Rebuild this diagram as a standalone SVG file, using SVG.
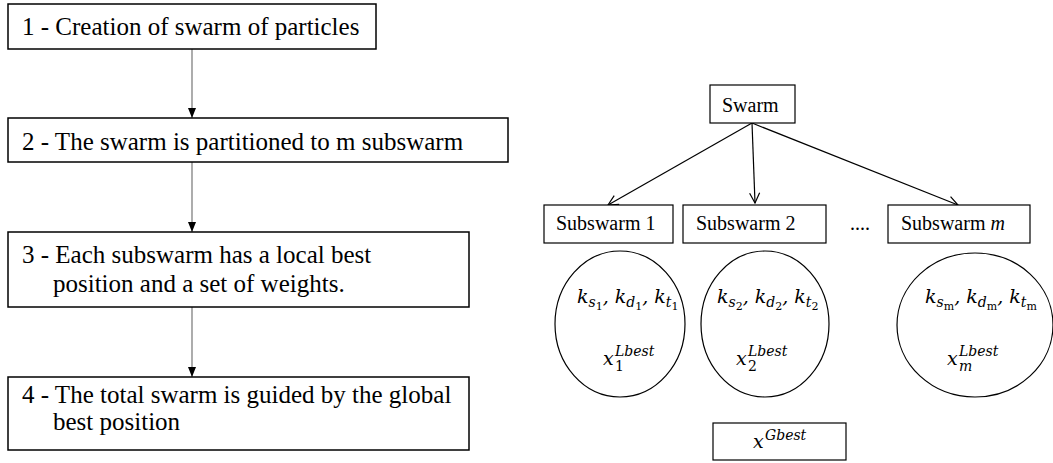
<svg xmlns="http://www.w3.org/2000/svg" width="1053" height="463" viewBox="0 0 1053 463">
  <style>
    .box { fill: #ffffff; stroke: #000000; stroke-width: 1.5; }
    .rbox { fill: #ffffff; stroke: #000000; stroke-width: 1.2; }
    .ell { fill: #ffffff; stroke: #000000; stroke-width: 1.2; }
    .t { font-family: "Liberation Serif", "DejaVu Serif", serif; font-size: 25px; fill: #000000; }
    .rt { font-family: "Liberation Serif", "DejaVu Serif", serif; font-size: 20px; fill: #000000; }
    .math { font-family: "DejaVu Serif", "Liberation Serif", serif; font-style: italic; font-size: 19px; fill: #000000; }
    .sub { font-size: 14px; }
    .sub2 { font-size: 11px; font-style: normal; }
    .flow { stroke: #808080; stroke-width: 1.3; fill: none; }
    .tree { stroke: #000000; stroke-width: 1.2; fill: none; }
  </style>
  <defs>
    <marker id="solidHead" markerWidth="10" markerHeight="8" refX="10" refY="4" orient="auto" markerUnits="userSpaceOnUse">
      <path d="M0,0 L10,4 L0,8 Z" fill="#000000"/>
    </marker>
    <marker id="openHead" markerWidth="12" markerHeight="12" refX="11" refY="6" orient="auto" markerUnits="userSpaceOnUse">
      <path d="M1,1 L11,6 L1,11" fill="none" stroke="#000000" stroke-width="1.2"/>
    </marker>
  </defs>

  <rect width="1053" height="463" fill="#ffffff"/>

  <!-- connectors -->
  <g id="connectors">
    <line class="flow" x1="192" y1="49" x2="192" y2="118" marker-end="url(#solidHead)"/>
    <line class="flow" x1="192" y1="162" x2="192" y2="232" marker-end="url(#solidHead)"/>
    <line class="flow" x1="192" y1="307" x2="192" y2="377" marker-end="url(#solidHead)"/>
    <line class="tree" x1="752" y1="123" x2="608" y2="205" marker-end="url(#openHead)"/>
    <line class="tree" x1="752" y1="123" x2="755" y2="203" marker-end="url(#openHead)"/>
    <line class="tree" x1="752" y1="123" x2="958" y2="205" marker-end="url(#openHead)"/>
  </g>

  <!-- process steps -->
  <g id="step1">
    <rect class="box" x="8" y="4" width="368" height="45"/>
    <text class="t" x="22" y="35">1 - Creation of swarm of particles</text>
  </g>
  <g id="step2">
    <rect class="box" x="8" y="118" width="500" height="44"/>
    <text class="t" x="22" y="150">2 - The swarm is partitioned to m subswarm</text>
  </g>
  <g id="step3">
    <rect class="box" x="8" y="232" width="461" height="75"/>
    <text class="t" x="22" y="263">3 - Each subswarm has a local best</text>
    <text class="t" x="53" y="292">position and a set of weights.</text>
  </g>
  <g id="step4">
    <rect class="box" x="8" y="377" width="461" height="73"/>
    <text class="t" x="22" y="403">4 - The total swarm is guided by the global</text>
    <text class="t" x="53" y="430">best position</text>
  </g>

  <!-- swarm hierarchy -->
  <g id="swarm">
    <rect class="rbox" x="710" y="85" width="85" height="38"/>
    <text class="rt" x="722" y="112">Swarm</text>
  </g>
  <g id="subswarm1">
    <rect class="rbox" x="544" y="205" width="129" height="38"/>
    <text class="rt" x="556" y="230">Subswarm 1</text>
  </g>
  <g id="subswarm2">
    <rect class="rbox" x="683" y="205" width="143" height="38"/>
    <text class="rt" x="696" y="230">Subswarm 2</text>
  </g>
  <g id="ellipsis">
    <text class="rt" x="850" y="230">....</text>
  </g>
  <g id="subswarmM">
    <rect class="rbox" x="888" y="205" width="142" height="38"/>
    <text class="rt" x="901" y="230">Subswarm <tspan font-style="italic">m</tspan></text>
  </g>

  <!-- weights and local best of each subswarm -->
  <g id="set1">
    <ellipse class="ell" cx="620" cy="324" rx="65" ry="73"/>
    <text class="math" x="577" y="303">k<tspan class="sub" dy="4">s</tspan><tspan class="sub2" dy="3">1</tspan><tspan dy="-7">, k</tspan><tspan class="sub" dy="4">d</tspan><tspan class="sub2" dy="3">1</tspan><tspan dy="-7">, k</tspan><tspan class="sub" dy="4">t</tspan><tspan class="sub2" dy="3">1</tspan></text>
    <text class="math" x="603" y="365">x<tspan class="sub" x="615" y="356">Lbest</tspan><tspan class="sub" font-style="normal" x="615" y="371">1</tspan></text>
  </g>
  <g id="set2">
    <ellipse class="ell" cx="765" cy="324" rx="64" ry="73"/>
    <text class="math" x="717" y="303">k<tspan class="sub" dy="4">s</tspan><tspan class="sub2" dy="3">2</tspan><tspan dy="-7">, k</tspan><tspan class="sub" dy="4">d</tspan><tspan class="sub2" dy="3">2</tspan><tspan dy="-7">, k</tspan><tspan class="sub" dy="4">t</tspan><tspan class="sub2" dy="3">2</tspan></text>
    <text class="math" x="736" y="365">x<tspan class="sub" x="748" y="356">Lbest</tspan><tspan class="sub" font-style="normal" x="748" y="371">2</tspan></text>
  </g>
  <g id="setM">
    <ellipse class="ell" cx="975" cy="325" rx="78" ry="72"/>
    <text class="math" x="925" y="303">k<tspan class="sub" dy="4">s</tspan><tspan class="sub2" font-style="italic" dy="3">m</tspan><tspan dy="-7">, k</tspan><tspan class="sub" dy="4">d</tspan><tspan class="sub2" font-style="italic" dy="3">m</tspan><tspan dy="-7">, k</tspan><tspan class="sub" dy="4">t</tspan><tspan class="sub2" font-style="italic" dy="3">m</tspan></text>
    <text class="math" x="947" y="365">x<tspan class="sub" x="959" y="356">Lbest</tspan><tspan class="sub" x="959" y="371">m</tspan></text>
  </g>

  <!-- global best -->
  <g id="globalBest">
    <rect class="rbox" x="713" y="423" width="133" height="37"/>
    <text class="math" x="753" y="448">x<tspan class="sub" x="765" y="440">Gbest</tspan></text>
  </g>
</svg>
